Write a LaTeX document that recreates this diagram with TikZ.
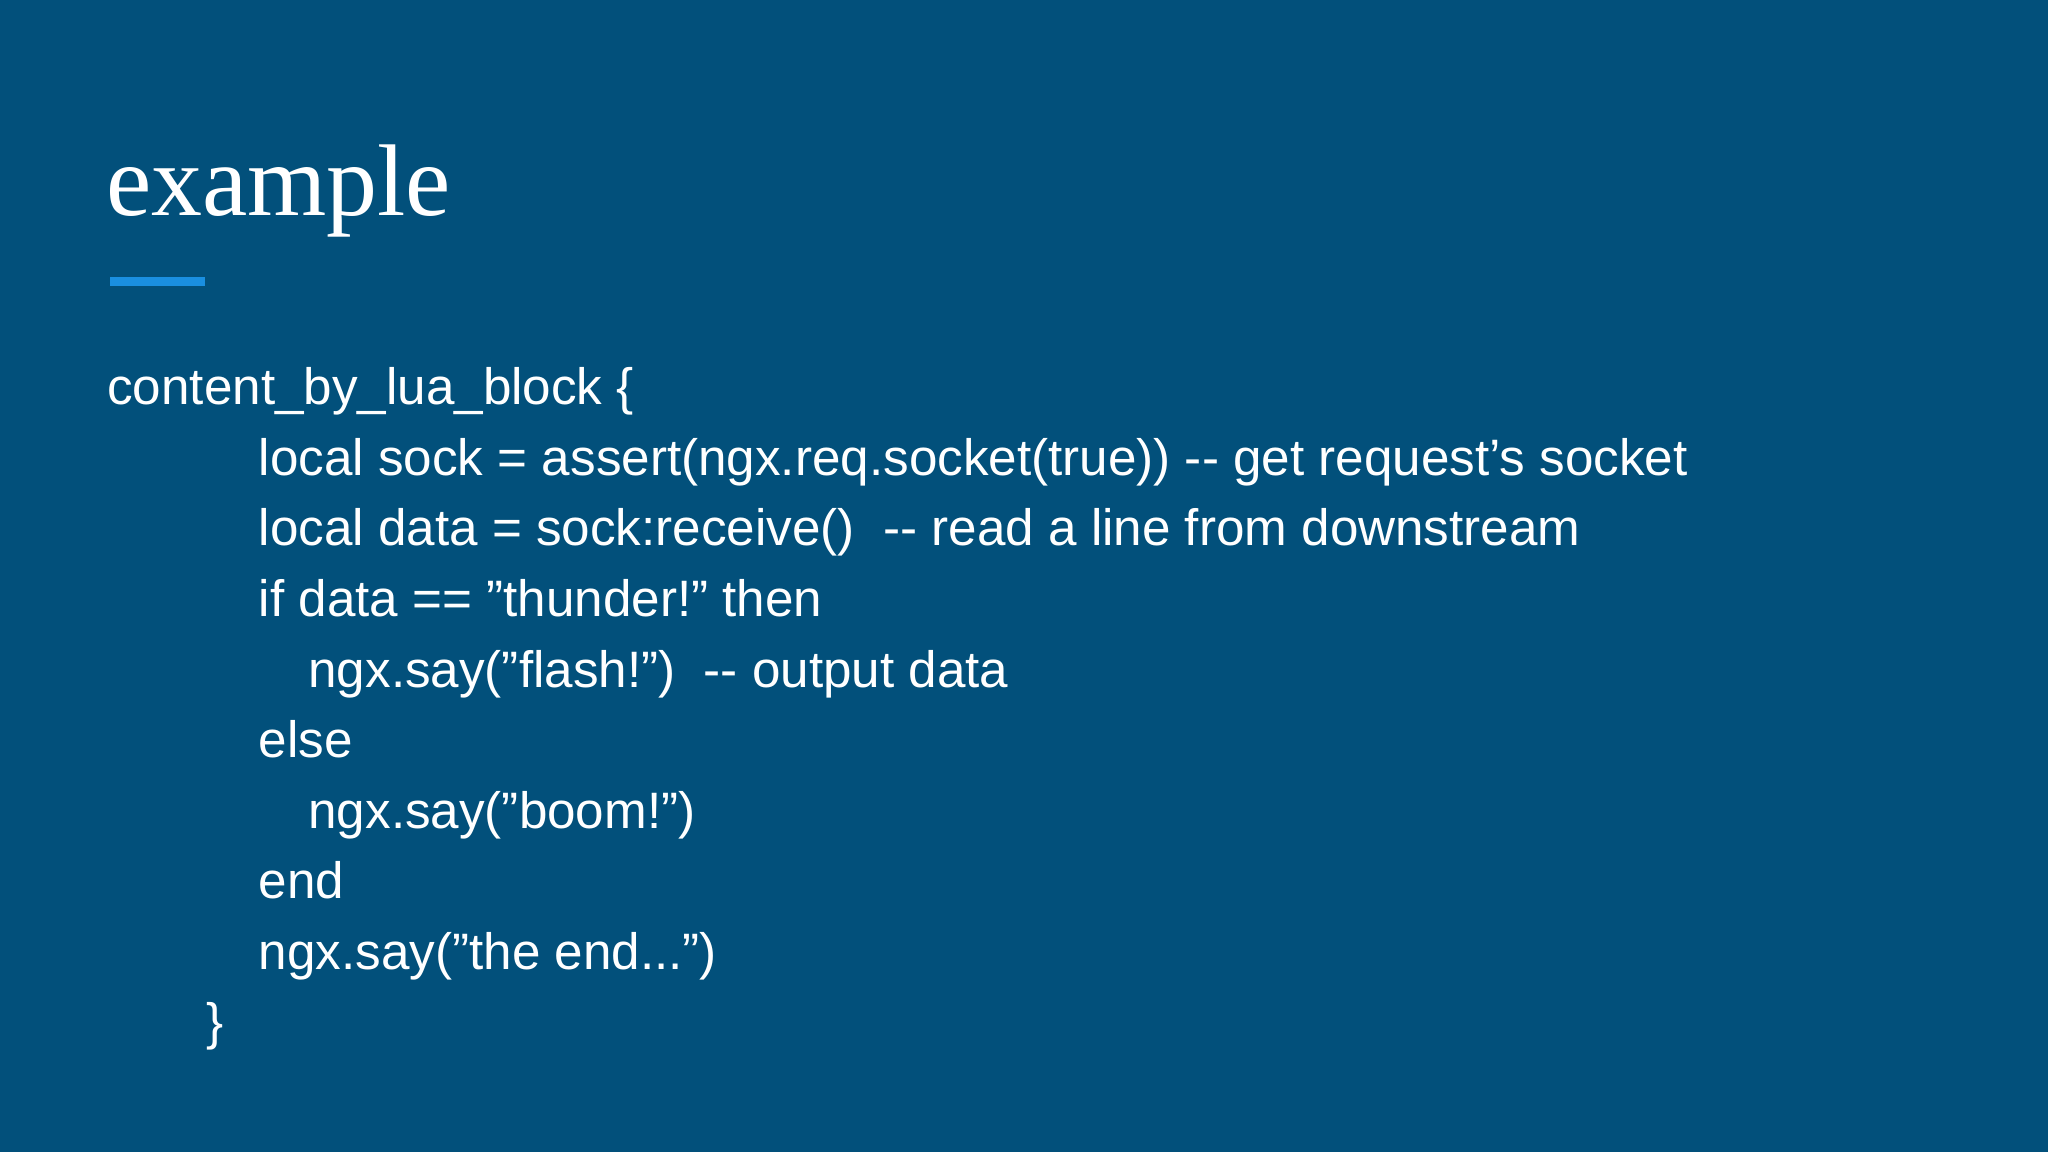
\documentclass[tikz,border=0pt]{standalone}
\usepackage{fontspec}
\setmainfont{Liberation Sans}
\newfontfamily\titlefont{Liberation Serif}
\newcommand\dq{\symbol{34}}
\definecolor{bg}{HTML}{02507B}
\definecolor{bar}{HTML}{1A8FE0}
\begin{document}
\begin{tikzpicture}[x=1pt,y=-1pt,
  code/.style={anchor=base west,inner sep=0pt,text=white,font=\fontsize{39.2}{44}\selectfont}]
\fill[bg] (0,0) rectangle (1568,882);
\useasboundingbox (0,0) rectangle (1568,882);
\node[anchor=base west,inner sep=0pt,text=white,font=\titlefont\fontsize{78}{88}\selectfont] (title) at (81,165) {example};
\fill[bar] (84,212) rectangle (157,219);
\node[code] (l1) at (82,310) {content\_by\_lua\_block \{};
\node[code] (l2) at (198,364) {local sock = assert(ngx.req.socket(true)) -{}- get request’s socket};
\node[code] (l3) at (198,418) {local data = sock:receive()\ \ -{}- read a line from downstream};
\node[code] (l4) at (198,472) {if data == \dq thunder!\dq{} then};
\node[code] (l5) at (236,526) {ngx.say(\dq flash!\dq)\ \ -{}- output data};
\node[code] (l6) at (198,580) {else};
\node[code] (l7) at (236,634) {ngx.say(\dq boom!\dq)};
\node[code] (l8) at (198,688) {end};
\node[code] (l9) at (198,742) {ngx.say(\dq the end...\dq)};
\node[code] (l10) at (158,796) {\}};
\end{tikzpicture}
\end{document}
